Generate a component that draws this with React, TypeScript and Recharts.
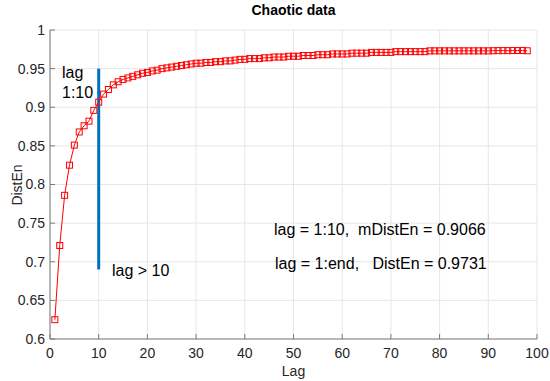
import React from "react";
import { LineChart, Line, XAxis, YAxis, CartesianGrid, ReferenceLine } from "recharts";

// DistEn per lag (lag = 1..98)
const distEn = [
  0.625, 0.721, 0.786, 0.825, 0.851, 0.868, 0.876, 0.882, 0.896, 0.9066,
  0.917, 0.923, 0.929, 0.933, 0.936, 0.938, 0.94, 0.942, 0.944, 0.945,
  0.947, 0.948, 0.95, 0.951, 0.952, 0.953, 0.954, 0.955, 0.956, 0.957,
  0.957, 0.958, 0.958, 0.959, 0.959, 0.96, 0.96, 0.961, 0.962, 0.962,
  0.963, 0.963, 0.963, 0.964, 0.964, 0.965, 0.965, 0.965, 0.966, 0.966,
  0.966, 0.967, 0.967, 0.967, 0.968, 0.968, 0.968, 0.969, 0.969, 0.969,
  0.969, 0.97, 0.97, 0.97, 0.97, 0.971, 0.971, 0.971, 0.971, 0.971,
  0.972, 0.972, 0.972, 0.972, 0.972, 0.972, 0.972, 0.973, 0.973, 0.973,
  0.973, 0.973, 0.973, 0.973, 0.973, 0.973, 0.973, 0.973, 0.973, 0.973,
  0.9732, 0.9733, 0.9733, 0.9733, 0.9734, 0.9734, 0.9735, 0.9731,
];

const xTicks = [0, 10, 20, 30, 40, 50, 60, 70, 80, 90, 100];
const yTicks = [0.6, 0.65, 0.7, 0.75, 0.8, 0.85, 0.9, 0.95, 1];

// blue marker line at lag 10
const cutLag = 10;
const cutRange = [0.69, 0.95];

const data = distEn.map((v, i) => ({ lag: i + 1, distEn: v }));

const font = "'Liberation Sans', Arial, Helvetica, sans-serif";
const axisColor = "#7a7a7a";
const textColor = "#262626";

const SquareDot = (props: any) => {
  const { cx, cy, index } = props;
  if (cx == null || cy == null) return null;
  return (
    <rect
      key={index}
      x={cx - 3}
      y={cy - 3}
      width={6}
      height={6}
      fill="none"
      stroke="#ff0000"
      strokeWidth={1}
    />
  );
};

export default function App() {
  const tickStyle = { fontSize: 14, fill: textColor, fontFamily: font };
  return (
    <div style={{ position: "absolute", left: 0, top: 0, width: 550, height: 381, background: "#fff" }}>
      <LineChart
        width={550}
        height={381}
        data={data}
        margin={{ top: 30, right: 13, left: 0, bottom: 0 }}
      >
        <CartesianGrid stroke="#e6e6e6" />
        <XAxis
          dataKey="lag"
          type="number"
          domain={[0, 100]}
          ticks={xTicks}
          height={42}
          tickSize={-5}
          tickMargin={14}
          tick={tickStyle}
          stroke={axisColor}
          interval={0}
        />
        <XAxis
          xAxisId="top"
          orientation="top"
          type="number"
          domain={[0, 100]}
          ticks={xTicks}
          height={0}
          tickSize={-5}
          tick={false}
          stroke={axisColor}
          allowDataOverflow
        />
        <YAxis
          type="number"
          domain={[0.6, 1]}
          ticks={yTicks}
          width={50}
          tickSize={-5}
          tickMargin={10}
          tick={tickStyle}
          stroke={axisColor}
          interval={0}
        />
        <YAxis
          yAxisId="right"
          orientation="right"
          type="number"
          domain={[0.6, 1]}
          ticks={yTicks}
          width={0}
          tickSize={-5}
          tick={false}
          stroke={axisColor}
          allowDataOverflow
        />
        <ReferenceLine
          segment={[
            { x: cutLag, y: cutRange[0] },
            { x: cutLag, y: cutRange[1] },
          ]}
          stroke="#0072BD"
          strokeWidth={3}
        />
        <Line
          type="linear"
          dataKey="distEn"
          stroke="#ff0000"
          strokeWidth={1}
          dot={SquareDot}
          isAnimationActive={false}
        />
      </LineChart>
      <svg
        width={550}
        height={381}
        style={{ position: "absolute", left: 0, top: 0, pointerEvents: "none" }}
        fontFamily={font}
        fill="#000"
      >
        <text x={293.5} y={15} textAnchor="middle" fontSize={14} fontWeight="bold">
          Chaotic data
        </text>
        <text x={293.5} y={376} textAnchor="middle" fontSize={14} fill={textColor}>
          Lag
        </text>
        <text
          transform="translate(22,185) rotate(-90)"
          textAnchor="middle"
          fontSize={14}
          fill={textColor}
        >
          DistEn
        </text>
        <text x={62} y={78} fontSize={16}>lag</text>
        <text x={62} y={98} fontSize={16}>1:10</text>
        <text x={112} y={276} fontSize={16}>lag &gt; 10</text>
        <text x={274} y={235} fontSize={16} style={{ whiteSpace: "pre" }}>
          {"lag = 1:10,  mDistEn = 0.9066"}
        </text>
        <text x={275} y={269} fontSize={16} style={{ whiteSpace: "pre" }}>
          {"lag = 1:end,   DistEn = 0.9731"}
        </text>
      </svg>
    </div>
  );
}
